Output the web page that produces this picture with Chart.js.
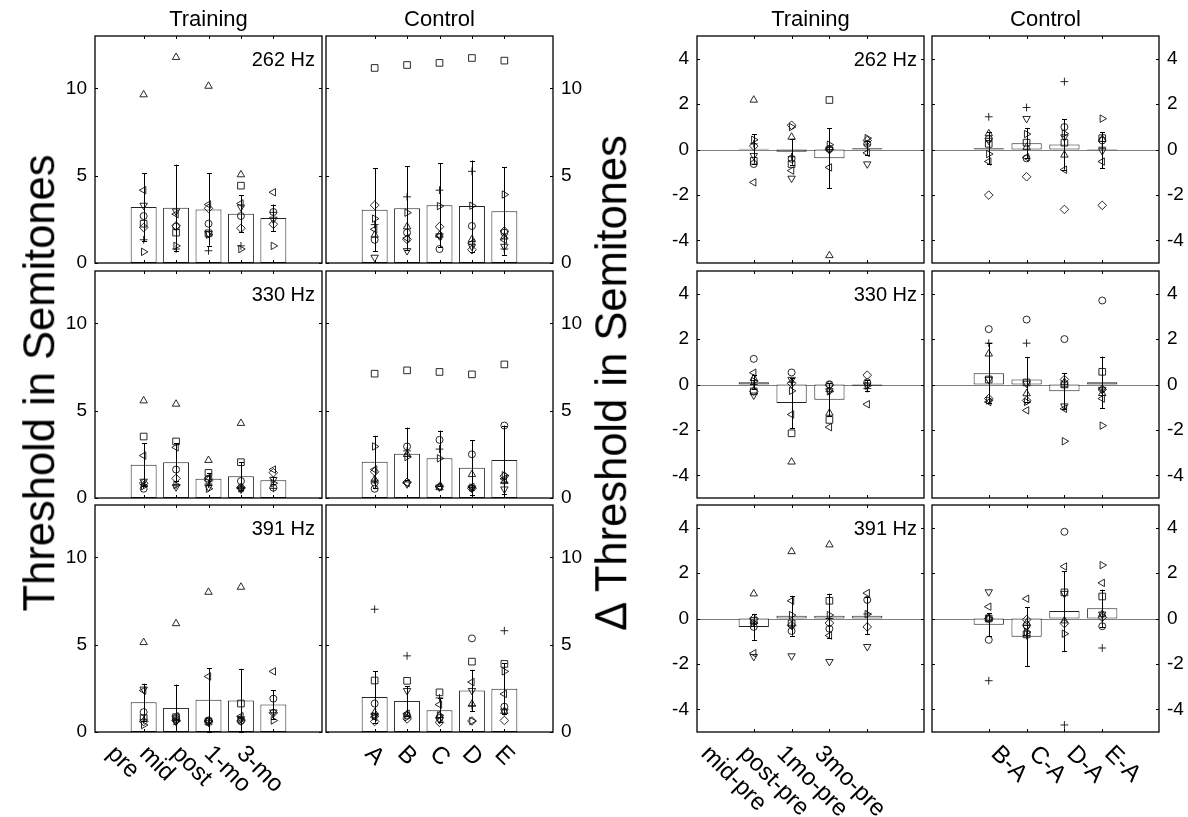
<!DOCTYPE html>
<html><head><meta charset="utf-8">
<script src="https://cdn.jsdelivr.net/npm/chart.js@4/dist/chart.umd.min.js"></script>
<style>
html,body{margin:0;padding:0;background:#fff;}
body{width:1188px;height:817px;position:relative;overflow:hidden;font-family:"Liberation Sans",Arial,sans-serif;color:#000;}
.t{position:absolute;white-space:nowrap;line-height:1;}
canvas{position:absolute;}
</style></head><body>
<script>
// ---------- categories / labels ----------
const trainCats = ['pre','mid','post','1-mo','3-mo'];
const ctrlCats = ['A','B','C','D','E'];
const dTrainCats = ['mid-pre','post-pre','1mo-pre','3mo-pre'];
const dCtrlCats = ['B-A','C-A','D-A','E-A'];
const freqLabels = ['262 Hz','330 Hz','391 Hz'];
const absTicks = [0,5,10];
const diffTicks = [-4,-2,0,2,4];
// subject order in point arrays: circle, plus, square, diamond, tri-up, tri-down, tri-right, tri-left

// ---------- Thresholds, Training ----------
const T262_mean = [3.2, 3.16, 3.07, 2.82, 2.58];
const T262_err  = [1.95, 2.47, 2.08, 1.06, 0.77];
const T262_pts = [
  [2.69, 2.08, 2.25, 2.69, 2.92],
  [1.33, 0.8, 0.7, 0.98, 2.9],
  [2.25, 1.74, 1.7, 4.43, null],
  [2.03, 2.13, 3.13, 1.99, 2.22],
  [9.64, 11.78, 10.13, 5.06, null],
  [3.3, 2.97, 1.68, 3.2, 2.5],
  [0.64, 0.98, 1.62, 0.8, 0.98],
  [4.17, 2.8, 3.35, 3.41, 4.05]];
const T330_mean = [1.91, 2.05, 1.1, 1.25, 1.02];
const T330_err  = [1.23, 1.09, 0.34, 0.8, 0.2];
const T330_pts = [
  [0.53, 1.63, 1.1, 0.97, 0.59],
  [0.75, 0.75, 0.8, 0.55, 0.55],
  [3.52, 3.24, 1.44, 2.05, null],
  [0.85, 1.12, 1.0, 0.6, 1.45],
  [5.57, 5.38, 2.16, 4.28, null],
  [0.95, 0.63, 0.62, 0.5, 1.06],
  [0.68, 0.75, 0.53, 0.55, 0.85],
  [2.43, 2.9, 1.15, 0.55, 1.63]];
const T391_mean = [1.7, 1.38, 1.84, 1.8, 1.57];
const T391_err  = [1.06, 1.33, 1.82, 1.82, 0.83];
const T391_pts = [
  [1.14, 0.75, 0.66, 0.63, 1.91],
  [0.7, 0.7, 0.55, 0.8, 1.1],
  [0.8, 0.85, 0.6, 1.63, null],
  [0.6, 0.65, 0.62, 0.63, 1.1],
  [5.13, 6.21, 8.01, 8.3, null],
  [2.45, 0.6, 0.55, 0.75, 1.14],
  [0.4, 0.62, 0.6, 0.7, 0.66],
  [2.37, 0.9, 3.18, 0.9, 3.47]];

// ---------- Thresholds, Control ----------
const C262_mean = [3.05, 3.14, 3.31, 3.26, 2.97];
const C262_err  = [2.39, 2.39, 2.41, 2.61, 2.53];
const C262_pts = [
  [1.33, 1.74, 0.8, 2.12, 1.74],
  [2.2, 3.79, 4.17, 5.25, 0.8],
  [11.17, 11.34, 11.46, 11.74, 11.59],
  [3.31, 1.35, 2.08, 0.76, 1.83],
  [1.6, 2.08, 1.6, 1.35, 1.5],
  [0.32, 0.7, 1.55, 0.95, 0.95],
  [2.54, 2.88, 3.26, 3.28, 3.92],
  [1.93, 1.42, 1.55, 1.14, 1.33]];
const C330_mean = [2.07, 2.54, 2.27, 1.73, 2.18];
const C330_err  = [1.49, 1.49, 1.59, 1.57, 1.97];
const C330_pts = [
  [0.53, 2.95, 3.33, 2.5, 4.15],
  [1.02, 2.7, 2.8, 0.6, 0.9],
  [7.12, 7.31, 7.22, 7.08, 7.65],
  [1.5, 0.9, 0.65, 0.55, 1.25],
  [1.06, 2.5, 0.6, 1.35, 0.95],
  [0.75, 0.8, 0.62, 0.58, 0.51],
  [2.95, 2.35, 2.27, 0.6, 1.3],
  [1.63, 0.85, 0.65, 0.62, 1.1]];
const C391_mean = [2.0, 1.78, 1.25, 2.37, 2.48];
const C391_err  = [1.47, 0.85, 0.7, 1.19, 1.46];
const C391_pts = [
  [1.63, 0.95, 0.8, 5.36, 1.45],
  [7.03, 4.36, 1.95, 1.5, 5.8],
  [2.95, 2.93, 2.27, 4.03, 3.9],
  [0.6, 0.75, 0.55, 0.63, 0.66],
  [1.1, 1.0, 0.95, 1.6, 1.19],
  [0.95, 2.37, 0.7, 2.37, 1.19],
  [0.9, 0.85, 0.95, 0.63, 3.47],
  [0.85, 1.05, 1.57, 2.86, 2.18]];

// ---------- Differences, Training ----------
const DT262_mean = [0.03, -0.1, -0.38, 0.06];
const DT262_err  = [0.65, 0.57, 1.33, 0.3];
const DT262_pts = [
  [-0.64, -0.41, 0.03, 0.25],
  [0.25, -0.32, 0.0, 0.2],
  [-0.5, -0.64, 2.18, null],
  [0.15, 1.07, 0.0, 0.4],
  [2.18, 0.55, -4.67, null],
  [-0.27, -1.27, 0.0, -0.64],
  [0.43, 0.99, 0.21, 0.5],
  [-1.45, -0.93, -0.79, -0.15]];
const DT330_mean = [0.1, -0.82, -0.67, -0.05];
const DT330_err  = [0.3, 1.1, 0.72, 0.25];
const DT330_pts = [
  [1.13, 0.53, 0.01, 0.1],
  [0.0, 0.1, -0.3, -0.18],
  [-0.3, -2.15, -1.56, null],
  [-0.3, 0.05, -0.03, 0.41],
  [0.27, -3.41, -1.26, null],
  [-0.47, 0.22, -0.28, -0.03],
  [0.15, -0.28, -0.3, -0.05],
  [0.52, -1.32, -1.88, -0.87]];
const DT391_mean = [-0.37, 0.12, 0.12, 0.12];
const DT391_err  = [0.57, 0.88, 0.97, 0.82];
const DT391_pts = [
  [-0.37, -0.55, -0.45, 0.82],
  [-0.2, -0.3, 0.0, 0.2],
  [-0.1, -0.22, 0.78, null],
  [0.0, -0.3, -0.2, -0.37],
  [1.09, 2.95, 3.25, null],
  [-1.68, -1.65, -1.9, -1.24],
  [-0.2, 0.15, 0.15, 0.19],
  [-1.53, 0.78, -0.75, 1.12]];

// ---------- Differences, Control ----------
const DC262_mean = [0.05, 0.28, 0.22, -0.03];
const DC262_err  = [0.7, 0.67, 1.11, 0.8];
const DC262_pts = [
  [0.47, -0.39, 0.99, 0.4],
  [1.44, 1.85, 2.99, 0.1],
  [0.25, 0.3, 0.3, 0.5],
  [-2.01, -1.2, -2.64, -2.46],
  [0.7, 0.1, -0.24, 0.45],
  [0.4, 1.36, 0.55, -0.06],
  [-0.2, 0.68, 0.7, 1.36],
  [-0.53, -0.35, -0.89, -0.53]];
const DC330_mean = [0.5, 0.22, -0.3, 0.1];
const DC330_err  = [1.33, 0.97, 0.8, 1.13];
const DC330_pts = [
  [2.44, 2.86, 2.0, 3.7],
  [1.82, 1.82, -0.1, -0.2],
  [0.22, 0.09, 0.0, 0.56],
  [-0.62, -0.7, 0.22, -0.22],
  [1.35, -0.4, 0.1, -0.39],
  [0.22, 0.05, -0.95, -0.22],
  [-0.7, -0.77, -2.5, -1.81],
  [-0.77, -1.14, -1.07, -0.62]];
const DC391_mean = [-0.27, -0.8, 0.33, 0.45];
const DC391_err  = [0.5, 1.3, 1.76, 0.82];
const DC391_pts = [
  [-0.94, -0.3, 3.82, -0.34],
  [-2.74, -0.75, -4.69, -1.3],
  [0.0, -0.7, 1.15, 0.97],
  [0.0, -0.05, -0.22, 0.05],
  [0.0, -0.2, -0.1, 0.19],
  [1.17, -0.4, 1.1, 0.19],
  [0.0, -0.6, -0.67, 2.35],
  [0.52, 0.87, 2.29, 1.57]];

// ---------- styling ----------
const FONT = '"Liberation Sans", Arial, Helvetica, sans-serif';
const MARKS = [
  {s:'circle', r:3.5, rot:0},
  {s:'cross', r:3.9, rot:0},
  {s:'rect', r:4.7, rot:0},
  {s:'rectRot', r:4.3, rot:0},
  {s:'triangle', r:4.3, rot:0},
  {s:'triangle', r:4.3, rot:180},
  {s:'triangle', r:4.3, rot:90},
  {s:'triangle', r:4.3, rot:270}];

const rowTop = [36, 271, 505];
const rowH = 227;
const colL = {lt:95, lc:326, rt:697, rc:932};
const colW = 227;

const deco = {
  id: 'deco',
  beforeDatasetsDraw(chart) {
    const o = chart.options.plugins.deco;
    const {ctx, chartArea:a, scales:{y}} = chart;
    if (o.zero) {
      ctx.save();
      ctx.strokeStyle = '#808080'; ctx.lineWidth = 1;
      const py = Math.round(y.getPixelForValue(0)) + 0.5;
      ctx.beginPath(); ctx.moveTo(a.left, py); ctx.lineTo(a.right, py); ctx.stroke();
      ctx.restore();
    }
  },
  afterDatasetsDraw(chart) {
    const o = chart.options.plugins.deco;
    const {ctx, chartArea:a, scales:{x, y}} = chart;
    ctx.save();
    // error bars
    ctx.strokeStyle = '#000'; ctx.lineWidth = 1;
    o.mean.forEach((m, i) => {
      const e = o.err[i];
      if (e == null) return;
      const px = Math.round(x.getPixelForValue(i + 1)) + 0.5;
      const y1 = y.getPixelForValue(m + e), y2 = y.getPixelForValue(m - e);
      ctx.beginPath();
      ctx.moveTo(px, y1); ctx.lineTo(px, y2);
      ctx.moveTo(px - 2.5, Math.round(y1) + 0.5); ctx.lineTo(px + 2.5, Math.round(y1) + 0.5);
      ctx.moveTo(px - 2.5, Math.round(y2) + 0.5); ctx.lineTo(px + 2.5, Math.round(y2) + 0.5);
      ctx.stroke();
    });
    // frame
    ctx.lineWidth = 1.3;
    ctx.strokeRect(a.left, a.top, a.right - a.left, a.bottom - a.top);
    // ticks
    ctx.lineWidth = 1;
    ctx.beginPath();
    o.yTicks.forEach(v => {
      const py = Math.round(y.getPixelForValue(v)) + 0.5;
      ctx.moveTo(a.left, py); ctx.lineTo(a.left + 3, py);
      ctx.moveTo(a.right, py); ctx.lineTo(a.right - 3, py);
    });
    o.cats.forEach((c, i) => {
      const px = Math.round(x.getPixelForValue(i + 1)) + 0.5;
      ctx.moveTo(px, a.top); ctx.lineTo(px, a.top + 3);
      ctx.moveTo(px, a.bottom); ctx.lineTo(px, a.bottom - 3);
    });
    ctx.stroke();
    // y tick labels
    ctx.fillStyle = '#000';
    ctx.font = '19px ' + FONT;
    ctx.textBaseline = 'middle';
    if (o.side) {
      ctx.textAlign = o.side === 'left' ? 'right' : 'left';
      const lx = o.side === 'left' ? a.left - 8 : a.right + 8;
      o.yTicks.forEach(v => ctx.fillText(String(v), lx, y.getPixelForValue(v)));
    }
    // frequency label
    if (o.hz) {
      ctx.font = '20px ' + FONT;
      ctx.textAlign = 'right'; ctx.textBaseline = 'alphabetic';
      ctx.fillText(o.hz, a.right - 7, a.top + 30);
    }
    // rotated category labels
    if (o.xlab) {
      ctx.font = '24px ' + FONT;
      ctx.textAlign = 'left'; ctx.textBaseline = 'middle';
      o.cats.forEach((c, i) => {
        const px = x.getPixelForValue(i + 1);
        ctx.save();
        ctx.translate(px + o.xdx, a.bottom + 18);
        ctx.rotate(Math.PI / 4);
        ctx.fillText(c, 0, 0);
        ctx.restore();
      });
    }
    ctx.restore();
  }
};

function panel(left, top, cats, mean, err, pts, yMin, yMax, yTicks, side, hz, xlab, zero, xdx) {
  const mL = 60, mR = 50, mT = 6, mB = xlab ? 110 : 6;
  const cw = colW + mL + mR, ch = rowH + mT + mB;
  const cv = document.createElement('canvas');
  cv.width = cw; cv.height = ch;
  cv.style.left = (left - mL) + 'px'; cv.style.top = (top - mT) + 'px';
  cv.style.width = cw + 'px'; cv.style.height = ch + 'px';
  document.body.appendChild(cv);
  const datasets = [{
    type: 'bar',
    data: mean.map((v, i) => ({x: i + 1, y: v})),
    backgroundColor: '#ffffff', borderColor: '#222', borderWidth: 1,
    borderSkipped: false, barPercentage: 0.8, categoryPercentage: 1, order: 10
  }];
  pts.forEach((arr, s) => {
    datasets.push({
      type: 'scatter',
      data: arr.map((v, i) => v == null ? null : {x: i + 1, y: v}).filter(d => d),
      pointStyle: MARKS[s].s, pointRadius: MARKS[s].r, pointRotation: MARKS[s].rot,
      pointBackgroundColor: 'rgba(0,0,0,0)', pointBorderColor: '#111', pointBorderWidth: 0.9,
      showLine: false, order: 1, clip: false
    });
  });
  new Chart(cv, {
    type: 'bar',
    data: {datasets},
    options: {
      responsive: false, animation: false, devicePixelRatio: 1, events: [],
      layout: {padding: {left: mL, right: mR, top: mT, bottom: mB}},
      scales: {
        x: {type: 'linear', min: 0, max: cats.length + 1, display: false, ticks: {stepSize: 1}, grid: {display: false}},
        y: {type: 'linear', min: yMin, max: yMax, display: false, grid: {display: false}}
      },
      plugins: {
        legend: {display: false}, tooltip: {enabled: false},
        deco: {cats, mean, err, yTicks, side, hz, xlab, zero, xdx}
      }
    },
    plugins: [deco]
  });
}

const absT = [[T262_mean,T262_err,T262_pts],[T330_mean,T330_err,T330_pts],[T391_mean,T391_err,T391_pts]];
const absC = [[C262_mean,C262_err,C262_pts],[C330_mean,C330_err,C330_pts],[C391_mean,C391_err,C391_pts]];
const difT = [[DT262_mean,DT262_err,DT262_pts],[DT330_mean,DT330_err,DT330_pts],[DT391_mean,DT391_err,DT391_pts]];
const difC = [[DC262_mean,DC262_err,DC262_pts],[DC330_mean,DC330_err,DC330_pts],[DC391_mean,DC391_err,DC391_pts]];

for (let r = 0; r < 3; r++) {
  const last = r === 2;
  panel(colL.lt, rowTop[r], trainCats, ...absT[r], 0, 13, absTicks, 'left', freqLabels[r], last, false, -33);
  panel(colL.lc, rowTop[r], ctrlCats, ...absC[r], 0, 13, absTicks, 'right', null, last, false, -6);
  panel(colL.rt, rowTop[r], dTrainCats, ...difT[r], -5, 5, diffTicks, 'left', freqLabels[r], last, true, -49);
  panel(colL.rc, rowTop[r], dCtrlCats, ...difC[r], -5, 5, diffTicks, 'right', null, last, true, 6);
}

// headers and axis titles
function txt(s, css) {
  const d = document.createElement('div');
  d.className = 't'; d.textContent = s; d.style.cssText += css;
  document.body.appendChild(d);
  return d;
}
const hdr = 'font-size:22px;top:8px;transform:translateX(-50%);';
txt('Training', hdr + 'left:' + (colL.lt + colW / 2) + 'px;');
txt('Control', hdr + 'left:' + (colL.lc + colW / 2) + 'px;');
txt('Training', hdr + 'left:' + (colL.rt + colW / 2) + 'px;');
txt('Control', hdr + 'left:' + (colL.rc + colW / 2) + 'px;');
const ttl = 'font-size:43.5px;transform:translate(-50%,-50%) rotate(-90deg);top:383px;';
txt('Threshold in Semitones', ttl + 'left:40px;');
txt('\u0394 Threshold in Semitones', ttl + 'left:612px;');
</script>
</body></html>
